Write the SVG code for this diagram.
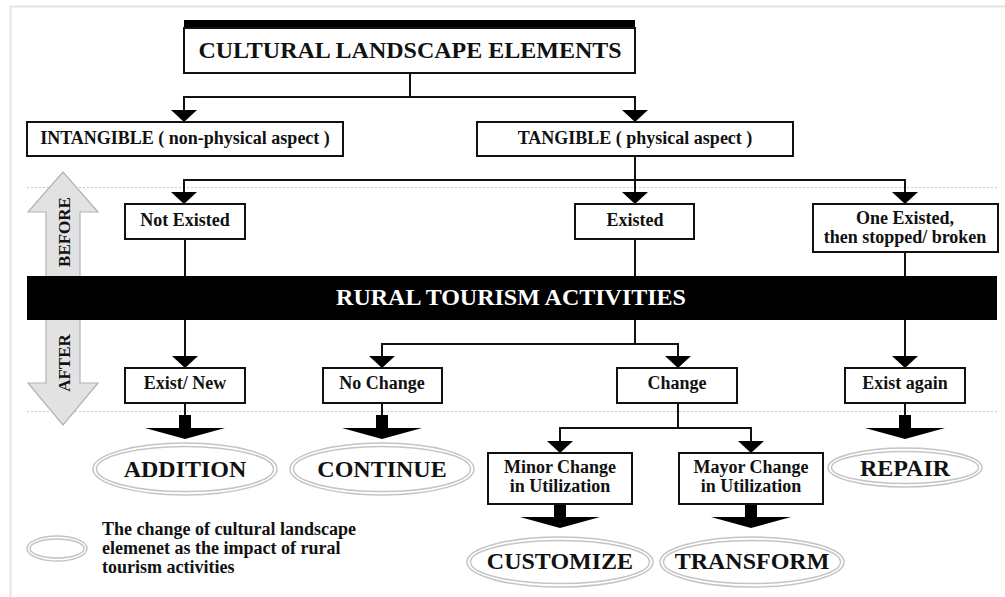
<svg xmlns="http://www.w3.org/2000/svg" xmlns:xlink="http://www.w3.org/1999/xlink" width="1005" height="597" viewBox="0 0 1005 597">
<defs>
<style>
.box{fill:#fff;stroke:#111;stroke-width:2}
.t{font-family:"Liberation Serif","Times New Roman",serif;font-weight:bold;fill:#111;text-anchor:middle}
.n{font-size:18px}
.big{font-size:24px}
.ln{fill:none;stroke:#111;stroke-width:2;stroke-linecap:square}
.ar{marker-end:url(#ah)}
.eo{fill:#fff;stroke:#c4c4c4;stroke-width:1.5}
.dash{stroke:#c8c8c8;stroke-width:1;stroke-dasharray:2 2}
</style>
<marker id="ah" viewBox="0 0 12 26" refX="12" refY="13" markerWidth="12" markerHeight="26" markerUnits="userSpaceOnUse" orient="auto"><path d="M0,0 L12,13 L0,26 z" fill="#000"/></marker>
<path id="fat" d="M-6,0 H6 V13 H40 L0,24 L-40,13 H-6 z" fill="#000"/>
</defs>
<rect width="1005" height="597" fill="#fff"/>
<rect x="10.5" y="6.5" width="1010" height="610" fill="none" stroke="#e4e4e4" stroke-width="2"/>
<g id="guides">
<line class="dash" x1="27" y1="187.5" x2="997" y2="187.5"/>
<line class="dash" x1="27" y1="411.5" x2="997" y2="411.5"/>
</g>
<g id="before-after">
<path d="M63,172 L98,212 H80 V383 H98 L63,425 L28,383 H46 V212 H28 z" fill="#e2e2e2" stroke="#b4b4b4" stroke-width="1.2"/>
<text class="t" font-size="17" fill="#333" transform="translate(70,232) rotate(-90)">BEFORE</text>
<text class="t" font-size="17" fill="#333" transform="translate(70,363) rotate(-90)">AFTER</text>
</g>
<g id="connectors">
<path class="ln" d="M410,73 V97"/>
<path class="ln" d="M184,97 H635"/>
<path class="ln ar" d="M184,97 V122"/>
<path class="ln ar" d="M635,97 V122"/>
<path class="ln" d="M635,156 V180"/>
<path class="ln" d="M184,180 H905"/>
<path class="ln ar" d="M184,180 V204"/>
<path class="ln ar" d="M635,180 V204"/>
<path class="ln ar" d="M905,180 V204"/>
<path class="ln" d="M185,239 V276"/>
<path class="ln" d="M635,239 V276"/>
<path class="ln" d="M905,252 V276"/>
<path class="ln ar" d="M185,320 V368"/>
<path class="ln" d="M635,320 V344"/>
<path class="ln" d="M382,344 H678"/>
<path class="ln ar" d="M382,344 V368"/>
<path class="ln ar" d="M678,344 V368"/>
<path class="ln ar" d="M905,320 V368"/>
<path class="ln" d="M678,403 V428"/>
<path class="ln" d="M560,428 H751"/>
<path class="ln ar" d="M560,428 V453"/>
<path class="ln ar" d="M751,428 V453"/>
<path class="ln" d="M185,403 V415"/>
<path class="ln" d="M382,403 V415"/>
<path class="ln" d="M905,403 V415"/>
<use xlink:href="#fat" x="185" y="415"/>
<use xlink:href="#fat" x="382" y="415"/>
<use xlink:href="#fat" x="905" y="415"/>
<use xlink:href="#fat" x="560" y="504"/>
<use xlink:href="#fat" x="751" y="504"/>
</g>
<g id="n-cle">
<rect x="184" y="20" width="451" height="9" fill="#000"/>
<rect class="box" x="184" y="28" width="451" height="45"/>
<text class="t big" x="410" y="58">CULTURAL LANDSCAPE ELEMENTS</text>
</g>
<g id="n-intangible">
<rect class="box" x="27" y="122" width="316" height="34"/>
<text class="t" font-size="18" x="185" y="144">INTANGIBLE ( non-physical aspect )</text>
</g>
<g id="n-tangible">
<rect class="box" x="477" y="122" width="316" height="34"/>
<text class="t" font-size="18" x="635" y="144">TANGIBLE ( physical aspect )</text>
</g>
<g id="n-notexisted">
<rect class="box" x="125" y="204" width="120" height="35"/>
<text class="t n" x="185" y="226">Not Existed</text>
</g>
<g id="n-existed">
<rect class="box" x="575" y="204" width="119" height="35"/>
<text class="t n" x="635" y="226">Existed</text>
</g>
<g id="n-oneexisted">
<rect class="box" x="813" y="204" width="185" height="48"/>
<text class="t n" x="905" y="224">One Existed,</text>
<text class="t n" x="905" y="243">then stopped/ broken</text>
</g>
<g id="n-band">
<rect x="27" y="276" width="970" height="44" fill="#000"/>
<text class="t big" x="511" y="305" style="fill:#fff">RURAL TOURISM ACTIVITIES</text>
</g>
<g id="n-existnew">
<rect class="box" x="125" y="368" width="120" height="35"/>
<text class="t n" x="185" y="389">Exist/ New</text>
</g>
<g id="n-nochange">
<rect class="box" x="323" y="368" width="119" height="35"/>
<text class="t n" x="382" y="389">No Change</text>
</g>
<g id="n-change">
<rect class="box" x="617" y="368" width="120" height="35"/>
<text class="t n" x="677" y="389">Change</text>
</g>
<g id="n-existagain">
<rect class="box" x="845" y="368" width="120" height="35"/>
<text class="t n" x="905" y="389">Exist again</text>
</g>
<g id="n-minor">
<rect class="box" x="488" y="453" width="144" height="51"/>
<text class="t n" x="560" y="473">Minor Change</text>
<text class="t n" x="560" y="492">in Utilization</text>
</g>
<g id="n-mayor">
<rect class="box" x="679" y="453" width="144" height="51"/>
<text class="t n" x="751" y="473">Mayor Change</text>
<text class="t n" x="751" y="492">in Utilization</text>
</g>
<g id="n-addition">
<ellipse class="eo" cx="185" cy="469" rx="92" ry="26"/>
<ellipse class="eo" cx="185" cy="469" rx="88.5" ry="22.5"/>
<text class="t big" x="185" y="477">ADDITION</text>
</g>
<g id="n-continue">
<ellipse class="eo" cx="382" cy="469" rx="92" ry="26"/>
<ellipse class="eo" cx="382" cy="469" rx="88.5" ry="22.5"/>
<text class="t big" x="382" y="477">CONTINUE</text>
</g>
<g id="n-repair">
<ellipse class="eo" cx="905" cy="467.5" rx="77" ry="19.5"/>
<ellipse class="eo" cx="905" cy="467.5" rx="73.5" ry="16"/>
<text class="t big" x="905" y="476">REPAIR</text>
</g>
<g id="n-customize">
<ellipse class="eo" cx="560" cy="562" rx="93" ry="25"/>
<ellipse class="eo" cx="560" cy="562" rx="89.5" ry="21.5"/>
<text class="t big" x="560" y="569">CUSTOMIZE</text>
</g>
<g id="n-transform">
<ellipse class="eo" cx="752" cy="562" rx="92" ry="25"/>
<ellipse class="eo" cx="752" cy="562" rx="88.5" ry="21.5"/>
<text class="t big" x="752" y="569">TRANSFORM</text>
</g>
<g id="legend">
<ellipse class="eo" cx="57" cy="548.5" rx="30" ry="12.5"/>
<ellipse class="eo" cx="57" cy="548.5" rx="27" ry="9.5"/>
<text class="t n" x="102" y="535" style="text-anchor:start">The change of cultural landscape</text>
<text class="t n" x="102" y="554" style="text-anchor:start">elemenet as the impact of rural</text>
<text class="t n" x="102" y="573" style="text-anchor:start">tourism activities</text>
</g>
</svg>
